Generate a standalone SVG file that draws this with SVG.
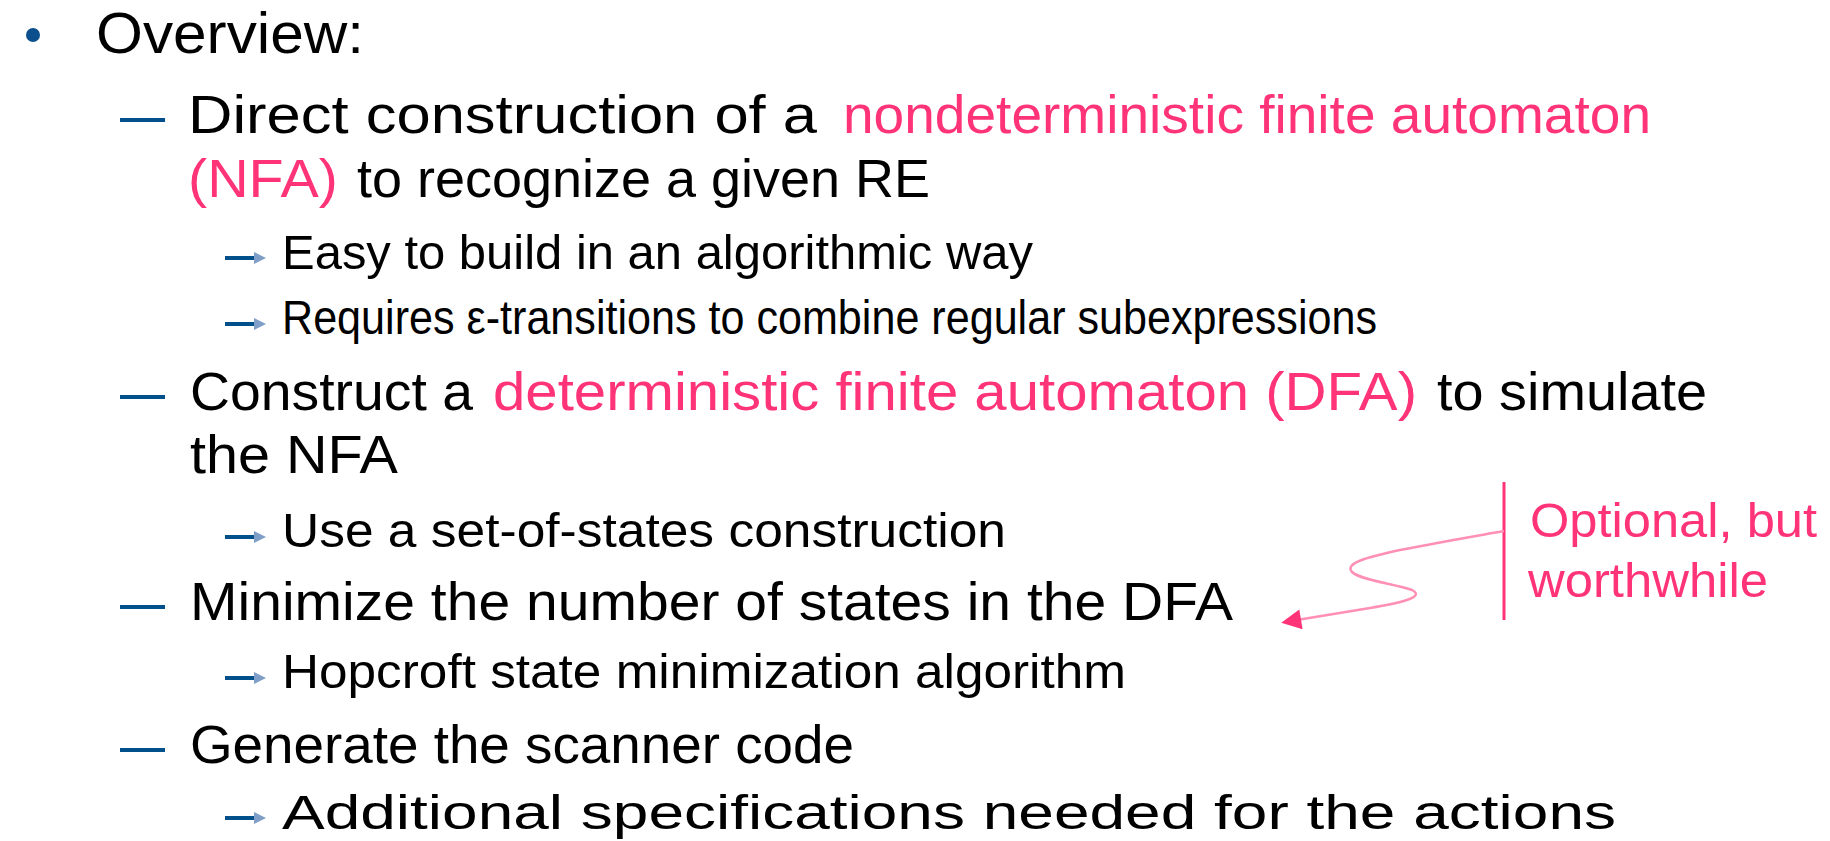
<svg xmlns="http://www.w3.org/2000/svg" width="1830" height="841" viewBox="0 0 1830 841">
  <style>
    text { font-family: "Liberation Sans", Arial, sans-serif; fill: #000; }
    .h { font-size: 57px; }
    .m { font-size: 53px; }
    .s { font-size: 49px; }
    .p { fill: #ff3377; }
    .dash { stroke: #00508c; stroke-width: 4; }
    .sub { stroke: #00508c; stroke-width: 4; }
    .subhead { fill: #7f9fc8; }
    .note { fill: #ff3377; font-size: 49px; }
  </style>
  <defs>
    <marker id="head" viewBox="0 0 10 10" refX="2" refY="5" markerUnits="userSpaceOnUse" markerWidth="22" markerHeight="20" orient="auto">
      <path d="M0,0 L10,5 L0,10 z" fill="#ff3377"/>
    </marker>
    <!-- small arrow used in front of third-level items -->
    <g id="subarrow">
      <line class="sub" x1="225" y1="0" x2="256" y2="0"/>
      <path class="subhead" d="M254,-6 L266,0 L254,6 z"/>
    </g>
  </defs>

  <rect width="1830" height="841" fill="#ffffff"/>

  <g id="overview">
    <circle cx="33" cy="35" r="7" fill="#0b4f8c"/>
    <text class="h" x="96" y="53" textLength="268" lengthAdjust="spacingAndGlyphs">Overview:</text>
  </g>

  <g id="item-nfa">
    <line class="dash" x1="120" y1="120" x2="165" y2="120"/>
    <text class="m" x="188" y="133" textLength="629" lengthAdjust="spacingAndGlyphs">Direct construction of a</text>
    <text class="m p" x="843" y="133" textLength="808" lengthAdjust="spacingAndGlyphs">nondeterministic finite automaton</text>
    <text class="m p" x="188" y="197" textLength="150" lengthAdjust="spacingAndGlyphs">(NFA)</text>
    <text class="m" x="357" y="197" textLength="573" lengthAdjust="spacingAndGlyphs">to recognize a given RE</text>
  </g>
  <g id="item-nfa-easy">
    <use href="#subarrow" y="258"/>
    <text class="s" x="282" y="269" textLength="751" lengthAdjust="spacingAndGlyphs">Easy to build in an algorithmic way</text>
  </g>
  <g id="item-nfa-eps">
    <use href="#subarrow" y="324"/>
    <text class="s" x="282" y="334" textLength="1095" lengthAdjust="spacingAndGlyphs">Requires ε-transitions to combine regular subexpressions</text>
  </g>

  <g id="item-dfa">
    <line class="dash" x1="120" y1="397" x2="165" y2="397"/>
    <text class="m" x="190" y="410" textLength="283" lengthAdjust="spacingAndGlyphs">Construct a</text>
    <text class="m p" x="493" y="410" textLength="924" lengthAdjust="spacingAndGlyphs">deterministic finite automaton (DFA)</text>
    <text class="m" x="1437" y="410" textLength="270" lengthAdjust="spacingAndGlyphs">to simulate</text>
    <text class="m" x="190" y="473" textLength="208" lengthAdjust="spacingAndGlyphs">the NFA</text>
  </g>
  <g id="item-dfa-sets">
    <use href="#subarrow" y="537"/>
    <text class="s" x="282" y="547" textLength="724" lengthAdjust="spacingAndGlyphs">Use a set-of-states construction</text>
  </g>

  <g id="item-min">
    <line class="dash" x1="120" y1="607" x2="165" y2="607"/>
    <text class="m" x="190" y="620" textLength="1043" lengthAdjust="spacingAndGlyphs">Minimize the number of states in the DFA</text>
  </g>
  <g id="item-min-hopcroft">
    <use href="#subarrow" y="678"/>
    <text class="s" x="282" y="688" textLength="844" lengthAdjust="spacingAndGlyphs">Hopcroft state minimization algorithm</text>
  </g>

  <g id="item-gen">
    <line class="dash" x1="120" y1="750" x2="165" y2="750"/>
    <text class="m" x="190" y="763" textLength="664" lengthAdjust="spacingAndGlyphs">Generate the scanner code</text>
  </g>
  <g id="item-gen-actions">
    <use href="#subarrow" y="818"/>
    <text class="s" x="282" y="829" font-size="54" textLength="1334" lengthAdjust="spacingAndGlyphs">Additional specifications needed for the actions</text>
  </g>

  <g id="note">
    <line x1="1504" y1="482" x2="1504" y2="620" stroke="#ff3377" stroke-width="3"/>
    <text class="note" x="1530" y="537" textLength="287" lengthAdjust="spacingAndGlyphs">Optional, but</text>
    <text class="note" x="1528" y="597" textLength="240" lengthAdjust="spacingAndGlyphs">worthwhile</text>
  </g>

  <g id="connectors">
    <path d="M1504,531 C1470,537 1440,542 1400,550 C1368,557 1344,563 1352,572 C1360,580 1395,584 1412,590 C1426,597 1400,603 1370,608 C1340,613 1315,617 1297,620" fill="none" stroke="#ff8fb3" stroke-width="2.5" marker-end="url(#head)"/>
  </g>
</svg>
